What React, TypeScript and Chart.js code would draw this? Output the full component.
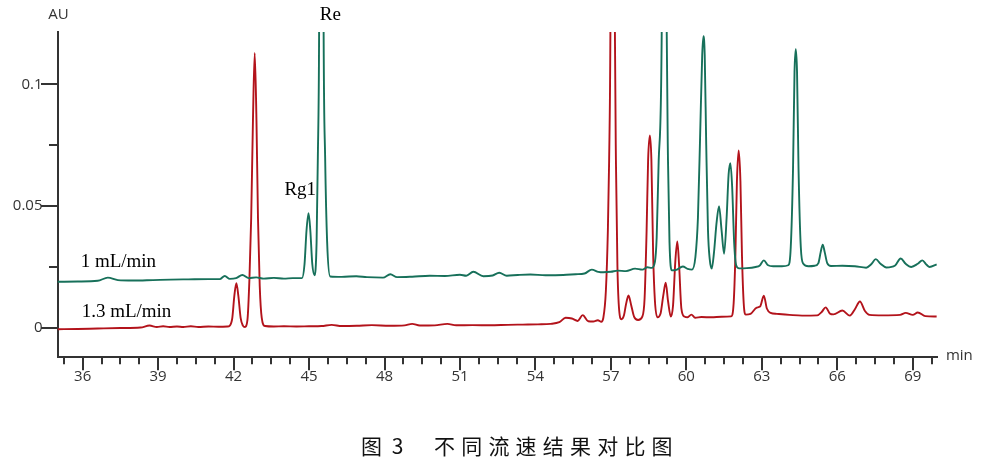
import React, { useEffect, useRef } from "react";
import { Chart, registerables } from "chart.js";

Chart.register(...registerables);

// ---- axis definitions ----
const X_MIN = 35;
const X_MAX = 70;
const Y_MIN = -0.012;
const Y_MAX = 0.1215;
const xMajorLabels = [36, 39, 42, 45, 48, 51, 54, 57, 60, 63, 66, 69];
const xMinorStep = 0.75;
const yTickValues = [0, 0.025, 0.05, 0.075, 0.1];
const yLabelled = [0, 0.05, 0.1];

const seriesNames = ["1 mL/min", "1.3 mL/min"];
const seriesColors = ["#17705a", "#b3131b"];
const peakNames = ["Rg1", "Re"];
const captionNumber = "图 3";
const captionText = "不同流速结果对比图";
const yUnit = "AU";
const xUnit = "min";

// ---- series: [retention time (min), absorbance (AU)] ----
const flow1: [number, number][] = [
  [35.0, 0.0188], [35.8, 0.0189], [36.6, 0.0192], [37.0, 0.0205], [37.4, 0.0195],
  [38.0, 0.0193], [38.8, 0.0195], [39.5, 0.0197], [40.2, 0.0198], [41.0, 0.0199],
  [41.45, 0.0199], [41.65, 0.0212], [41.85, 0.02], [42.1, 0.0203], [42.35, 0.0216],
  [42.6, 0.0203], [42.9, 0.0206], [43.2, 0.0201], [43.6, 0.0204], [44.0, 0.0201],
  [44.35, 0.0203], [44.72, 0.0203],
  [44.82, 0.026], [44.9, 0.04], [44.98, 0.047], [45.05, 0.04], [45.13, 0.026], [45.22, 0.0215],
  [45.3, 0.035], [45.35, 0.07], [45.4, 0.121], [45.49, 0.45], [45.58, 0.121], [45.64, 0.07],
  [45.72, 0.035], [45.84, 0.021],
  [46.3, 0.0208], [46.88, 0.0211], [47.3, 0.0207], [47.94, 0.0205], [48.23, 0.0219],
  [48.5, 0.0207], [49.1, 0.0209], [49.8, 0.0213], [50.4, 0.0212], [51.0, 0.0217],
  [51.25, 0.0213], [51.53, 0.0229], [51.93, 0.0211], [52.3, 0.0214], [52.56, 0.0225],
  [52.86, 0.0213], [53.3, 0.0216], [53.8, 0.0218], [54.4, 0.0215], [55.1, 0.0216],
  [55.6, 0.0219], [55.95, 0.0222], [56.24, 0.0238], [56.5, 0.0229], [56.7, 0.0227],
  [57.0, 0.0229], [57.27, 0.0234], [57.6, 0.0232], [57.96, 0.0242], [58.25, 0.0238],
  [58.45, 0.0248], [58.62, 0.0245],
  [58.75, 0.027], [58.82, 0.037], [58.9, 0.0687], [59.02, 0.121], [59.12, 0.4],
  [59.22, 0.121], [59.27, 0.0687], [59.33, 0.035], [59.42, 0.0235],
  [59.6, 0.0237], [59.86, 0.0251], [60.05, 0.0241], [60.22, 0.0238],
  [60.36, 0.029], [60.46, 0.045], [60.55, 0.08], [60.63, 0.112], [60.68, 0.1198],
  [60.73, 0.112], [60.79, 0.075], [60.86, 0.04], [60.93, 0.028], [61.01, 0.0242],
  [61.1, 0.031], [61.2, 0.043], [61.3, 0.0499], [61.4, 0.04], [61.5, 0.0303],
  [61.6, 0.045], [61.68, 0.063], [61.75, 0.0676], [61.82, 0.058], [61.9, 0.035],
  [61.98, 0.0256], [62.1, 0.0243],
  [62.4, 0.0244], [62.75, 0.0249], [62.92, 0.0255], [63.08, 0.0276], [63.25, 0.0256],
  [63.45, 0.0252], [63.8, 0.0252], [64.05, 0.0256],
  [64.15, 0.033], [64.24, 0.065], [64.3, 0.105], [64.35, 0.1144], [64.4, 0.105],
  [64.46, 0.065], [64.55, 0.033], [64.65, 0.0262],
  [64.85, 0.0252], [65.1, 0.0254], [65.25, 0.0265], [65.34, 0.031], [65.42, 0.0341],
  [65.5, 0.031], [65.6, 0.0265], [65.75, 0.0253],
  [66.2, 0.0254], [66.7, 0.0252], [67.15, 0.0246], [67.35, 0.026], [67.53, 0.0281],
  [67.72, 0.0262], [67.95, 0.0247], [68.3, 0.0255], [68.52, 0.0284], [68.72, 0.0262],
  [68.94, 0.0249], [69.2, 0.0262], [69.38, 0.0276], [69.55, 0.0258], [69.67, 0.0249],
  [69.95, 0.026],
];

const flow13: [number, number][] = [
  [35.0, -0.0007], [35.8, -0.0006], [36.6, -0.0004], [37.5, -0.0002], [38.3, 0.0],
  [38.66, 0.0008], [38.95, 0.0002], [39.2, 0.0005], [39.45, 0.0002], [39.75, 0.0004],
  [40.0, 0.0002], [40.3, 0.0005], [40.6, 0.0002], [41.0, 0.0004], [41.4, 0.0003],
  [41.75, 0.0004],
  [41.85, 0.0008], [41.95, 0.004], [42.03, 0.013], [42.11, 0.0182], [42.19, 0.013],
  [42.28, 0.004], [42.37, 0.0008], [42.45, 0.0002],
  [42.55, 0.003], [42.63, 0.02], [42.7, 0.045], [42.77, 0.085], [42.84, 0.1129],
  [42.91, 0.085], [42.97, 0.045], [43.04, 0.017], [43.12, 0.004], [43.25, 0.0006],
  [43.6, 0.0004], [44.0, 0.0005], [44.5, 0.0004], [45.0, 0.0005], [45.5, 0.0006],
  [45.9, 0.0011], [46.3, 0.0006], [46.9, 0.0007], [47.5, 0.001], [48.2, 0.0007],
  [48.8, 0.0009], [49.1, 0.0015], [49.4, 0.0008], [50.0, 0.0009], [50.5, 0.0015],
  [50.85, 0.0009], [51.5, 0.001], [52.2, 0.0009], [52.9, 0.0011], [53.5, 0.0012],
  [54.1, 0.0013], [54.6, 0.0015], [54.95, 0.0022], [55.2, 0.004], [55.45, 0.0037],
  [55.68, 0.0027], [55.88, 0.0051], [56.1, 0.0026], [56.3, 0.0025], [56.48, 0.003],
  [56.62, 0.0024],
  [56.7, 0.004], [56.8, 0.015], [56.88, 0.04], [56.93, 0.0687], [56.98, 0.121],
  [57.07, 0.4], [57.16, 0.121], [57.2, 0.0687], [57.26, 0.025], [57.33, 0.007],
  [57.42, 0.0034],
  [57.52, 0.005], [57.6, 0.0095], [57.7, 0.0132], [57.8, 0.0095], [57.92, 0.0045],
  [58.08, 0.0031], [58.25, 0.0045], [58.34, 0.012],
  [58.42, 0.04], [58.48, 0.069], [58.55, 0.079], [58.61, 0.069], [58.68, 0.03],
  [58.75, 0.011], [58.85, 0.0042],
  [58.98, 0.006], [59.08, 0.013], [59.18, 0.0184], [59.27, 0.011], [59.38, 0.0045],
  [59.47, 0.009], [59.56, 0.027], [59.64, 0.0354], [59.71, 0.026], [59.8, 0.008],
  [59.92, 0.0045], [60.05, 0.0042], [60.2, 0.0053], [60.35, 0.004], [60.6, 0.0043],
  [61.0, 0.0042], [61.4, 0.0044], [61.78, 0.0046],
  [61.88, 0.01], [61.95, 0.03], [62.01, 0.06], [62.08, 0.0728], [62.15, 0.06],
  [62.21, 0.03], [62.28, 0.01], [62.36, 0.0053],
  [62.55, 0.0056], [62.8, 0.0082], [62.93, 0.0086], [63.08, 0.0131], [63.2, 0.0078],
  [63.35, 0.006], [63.6, 0.0056], [64.1, 0.0052], [64.6, 0.0049], [65.2, 0.005],
  [65.38, 0.0064], [65.54, 0.0083], [65.7, 0.0058], [65.85, 0.0054], [66.2, 0.007],
  [66.5, 0.0049], [66.7, 0.0075], [66.9, 0.0107], [67.1, 0.0068], [67.28, 0.0052],
  [67.8, 0.005], [68.5, 0.0052], [68.72, 0.006], [69.0, 0.0052], [69.2, 0.0062],
  [69.5, 0.0047], [69.95, 0.0045],
];

const AXIS_COLOR = "#333333";
const TICK_FONT = "Open Sans";
const SERIF = "'Liberation Serif', 'DejaVu Serif', serif";

const decorPlugin = {
  id: "decor",
  afterDraw(chart: any) {
    const { ctx, chartArea, scales } = chart;
    const xs = scales.x;
    const ys = scales.y;
    ctx.save();
    ctx.strokeStyle = AXIS_COLOR;
    ctx.lineWidth = 2;
    ctx.lineCap = "butt";
    // x tick marks
    const firstMinor = xMajorLabels[0] - xMinorStep;
    for (let k = 0; ; k++) {
      const v = firstMinor + k * xMinorStep;
      if (v >= X_MAX) break;
      const px = Math.round(xs.getPixelForValue(v));
      const major = xMajorLabels.some((m) => Math.abs(m - v) < 1e-6);
      ctx.beginPath();
      ctx.moveTo(px, chartArea.bottom);
      ctx.lineTo(px, chartArea.bottom + (major ? 13.5 : 7.5));
      ctx.stroke();
    }
    // y tick marks
    yTickValues.forEach((v) => {
      const py = Math.round(ys.getPixelForValue(v));
      const major = yLabelled.some((m) => Math.abs(m - v) < 1e-9);
      ctx.beginPath();
      ctx.moveTo(chartArea.left, py);
      ctx.lineTo(chartArea.left - (major ? 16.5 : 8.5), py);
      ctx.stroke();
    });

    // axis units
    ctx.fillStyle = "#333";
    ctx.font = `15px '${TICK_FONT}'`;
    ctx.textBaseline = "middle";
    ctx.textAlign = "center";
    ctx.fillText(yUnit, chartArea.left + 1, 15);
    ctx.textAlign = "left";
    ctx.fillText(xUnit, chartArea.right + 8, chartArea.bottom - 1);

    // annotations (serif)
    ctx.fillStyle = "#000";
    ctx.font = `19px ${SERIF}`;
    ctx.textBaseline = "alphabetic";
    ctx.textAlign = "left";
    ctx.fillText(peakNames[1], xs.getPixelForValue(45.43), 19.5);
    ctx.fillText(peakNames[0], xs.getPixelForValue(44.02), 194.5);
    ctx.fillText(seriesNames[0], xs.getPixelForValue(35.92), 266.5);
    ctx.fillText(seriesNames[1], xs.getPixelForValue(35.96), 317);

    // caption
    ctx.fillStyle = "#111";
    ctx.font = "21px 'Noto Sans CJK SC'";
    ctx.textBaseline = "middle";
    ctx.textAlign = "left";
    (ctx as any).letterSpacing = "2.5px";
    ctx.fillText(captionNumber, 361, 446);
    (ctx as any).letterSpacing = "6.2px";
    ctx.fillText(captionText, 434, 446);
    (ctx as any).letterSpacing = "0px";
    ctx.restore();
  },
};

export default function App() {
  const canvasRef = useRef<HTMLCanvasElement | null>(null);

  useEffect(() => {
    const canvas = canvasRef.current;
    if (!canvas) return;
    const chart = new Chart(canvas, {
      type: "line",
      data: {
        datasets: [
          {
            label: seriesNames[0],
            data: flow1.map(([x, y]) => ({ x, y })),
            borderColor: seriesColors[0],
            borderWidth: 1.9,
            pointRadius: 0,
            cubicInterpolationMode: "monotone",
            fill: false,
          },
          {
            label: seriesNames[1],
            data: flow13.map(([x, y]) => ({ x, y })),
            borderColor: seriesColors[1],
            borderWidth: 1.9,
            pointRadius: 0,
            cubicInterpolationMode: "monotone",
            fill: false,
          },
        ],
      },
      options: {
        responsive: false,
        animation: false,
        devicePixelRatio: 1,
        layout: { padding: { top: 32, right: 58.1, left: 0, bottom: 0 } },
        plugins: {
          legend: { display: false },
          tooltip: { enabled: false },
        },
        scales: {
          x: {
            type: "linear",
            min: X_MIN,
            max: X_MAX,
            grid: { display: false, drawTicks: false },
            border: { display: true, color: AXIS_COLOR, width: 2 },
            ticks: {
              autoSkip: false,
              maxRotation: 0,
              padding: 11,
              color: "#333",
              font: { family: TICK_FONT, size: 15 },
              callback: (v: any) => String(v),
            },
            afterBuildTicks: (scale: any) => {
              scale.ticks = xMajorLabels.map((v) => ({ value: v }));
            },
            afterFit: (scale: any) => {
              scale.height = 472 - 356.7;
            },
          },
          y: {
            type: "linear",
            min: Y_MIN,
            max: Y_MAX,
            grid: { display: false, drawTicks: false },
            border: { display: true, color: AXIS_COLOR, width: 2 },
            ticks: {
              padding: 15,
              color: "#333",
              font: { family: TICK_FONT, size: 15 },
              callback: (v: any) => String(v),
            },
            afterBuildTicks: (scale: any) => {
              scale.ticks = yLabelled.map((v) => ({ value: v }));
            },
            afterFit: (scale: any) => {
              scale.width = 57.5;
            },
          },
        },
      },
      plugins: [decorPlugin],
    });
    return () => chart.destroy();
  }, []);

  return (
    <div
      style={{
        position: "fixed",
        left: 0,
        top: 0,
        width: 996,
        height: 472,
        background: "#ffffff",
      }}
    >
      <canvas ref={canvasRef} width={996} height={472} style={{ width: 996, height: 472, display: "block" }} />
    </div>
  );
}
